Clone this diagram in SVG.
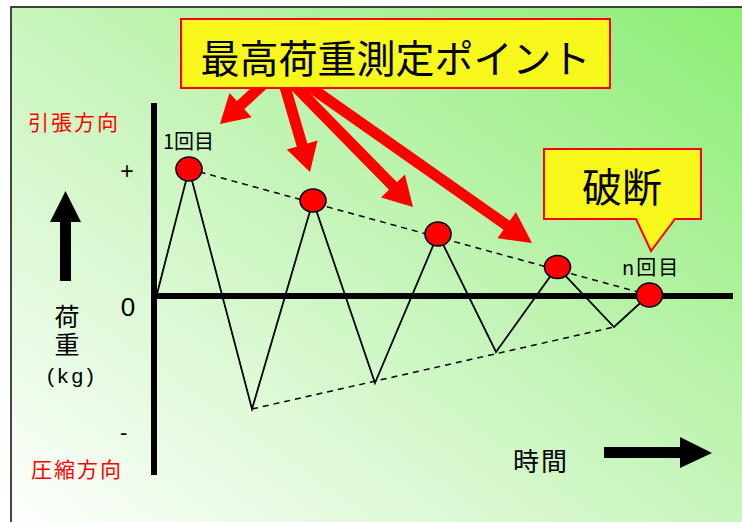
<svg xmlns="http://www.w3.org/2000/svg" width="742" height="522" viewBox="0 0 742 522">
<defs>
<linearGradient id="bg" x1="0" y1="1" x2="1" y2="0">
<stop offset="0" stop-color="#ffffff"/>
<stop offset="0.5" stop-color="#c8f5bc"/>
<stop offset="1" stop-color="#8aed72"/>
</linearGradient>
<style>
.jp{font-family:"Noto Sans CJK JP","Noto Sans CJK SC",sans-serif;}
.lat{font-family:"Liberation Sans",Arial,sans-serif;}
.red{fill:#ff0000;}
.blk{fill:#000;}
.box{fill:#f7f71c;stroke:#ff0000;stroke-width:2;}
.pt{fill:#ff0000;stroke:#000;stroke-width:1.6;}
.zig{fill:none;stroke:#000;stroke-width:1.8;stroke-linejoin:miter;}
.dash{fill:none;stroke:#000;stroke-width:1.5;stroke-dasharray:6 5;}
.axis{stroke:#000;stroke-width:6;}
</style>
</defs>
<rect x="0" y="0" width="742" height="522" fill="#ffffff"/>
<rect x="11" y="7" width="745" height="530" fill="url(#bg)" stroke="#1a1a1a" stroke-width="1.6"/>

<g id="axes">
<line class="axis" x1="154" y1="103" x2="154" y2="475"/>
<line class="axis" x1="154" y1="296" x2="733" y2="296"/>
</g>

<g id="connectors">
<polyline class="zig" points="157,294 189,169 252,409 313,201 375,383 438,234 496,352 557,267 614,327 649,295"/>
<line class="dash" x1="189" y1="169" x2="649" y2="295"/>
<line class="dash" x1="252" y1="409" x2="614" y2="327"/>
<polygon class="red" points="264.3,76 236.9,101 229.5,93 220,124 251.7,117.2 244.3,109.2 271.7,84"/>
<polygon class="red" points="277.7,81.55 296.8,146.7 286.7,149.6 310,172 317.5,140.6 307.4,143.6 288.3,78.45"/>
<polygon class="red" points="285,83.8 389,189.8 381.1,197.4 413,207 404.9,174.6 397,182.2 293,76.2"/>
<polygon class="red" points="296.8,84.5 503.5,229.7 497.4,238.3 532,243 515.9,212.1 509.8,220.7 303.2,75.5"/>
<polygon class="blk" points="60,281 60,222 50,222 65.5,191 81,222 71,222 71,281"/>
<polygon class="blk" points="604,447 680,447 680,437 712,453 680,468 680,458 604,458"/>
</g>

<g id="title">
<rect class="box" x="181" y="19" width="429" height="69"/>
<text class="jp" x="395.5" y="73" font-size="39" text-anchor="middle">最高荷重測定ポイント</text>
</g>

<g id="break">
<polygon class="box" points="544,149 701,149 701,219 675,219 651,251 636,219 544,219"/>
<text class="jp" x="622" y="202" font-size="40" text-anchor="middle">破断</text>
</g>

<g id="p1"><ellipse class="pt" cx="189" cy="169" rx="13" ry="12"/></g>
<g id="p2"><ellipse class="pt" cx="313" cy="200.5" rx="13" ry="11.5"/></g>
<g id="p3"><ellipse class="pt" cx="438" cy="234" rx="13" ry="12"/></g>
<g id="p4"><ellipse class="pt" cx="557.5" cy="267" rx="13" ry="11.5"/></g>
<g id="p5"><ellipse class="pt" cx="649.5" cy="295" rx="13" ry="12"/></g>

<g id="labels">
<text class="jp" x="163" y="149" font-size="20">1回目</text>
<text class="jp" x="622" y="275" font-size="20" letter-spacing="2">n回目</text>
<text class="jp red" x="28" y="130" font-size="21" letter-spacing="2">引張方向</text>
<text class="jp red" x="31" y="477" font-size="21" letter-spacing="2">圧縮方向</text>
<text class="lat" x="127" y="179" font-size="23" text-anchor="middle">+</text>
<text class="lat" x="128" y="316" font-size="26" text-anchor="middle">0</text>
<text class="lat" x="120" y="440" font-size="22">-</text>
<text class="jp" font-size="25" text-anchor="middle"><tspan x="67" y="326">荷</tspan><tspan x="67" y="354">重</tspan></text>
<text class="lat" x="47" y="383" font-size="21" letter-spacing="3.5">(kg)</text>
<text class="jp" x="513" y="471" font-size="26" letter-spacing="2">時間</text>
</g>
</svg>
